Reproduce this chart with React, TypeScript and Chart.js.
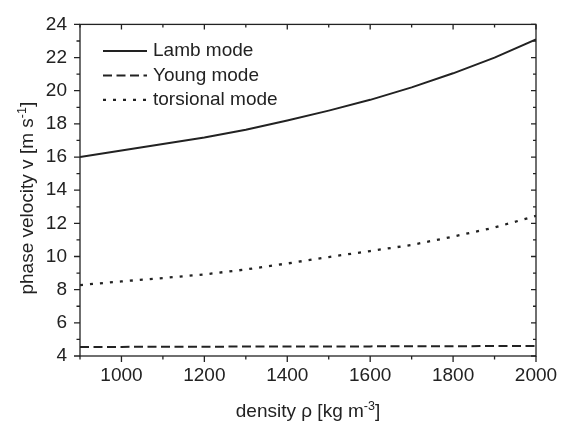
import React, { useEffect, useRef } from "react";
import { Chart, registerables } from "chart.js";

Chart.register(...registerables);

// ---- data ----
const density = [900, 1000, 1100, 1200, 1300, 1400, 1500, 1600, 1700, 1800, 1900, 2000];
const lambMode = [16.0, 16.4, 16.78, 17.18, 17.65, 18.2, 18.8, 19.45, 20.2, 21.05, 22.0, 23.1];
const youngMode = [4.55, 4.55, 4.56, 4.56, 4.57, 4.57, 4.58, 4.58, 4.59, 4.59, 4.6, 4.6];
const torsionalMode = [8.28, 8.5, 8.7, 8.92, 9.22, 9.58, 9.97, 10.33, 10.7, 11.2, 11.75, 12.45];

const seriesLabels = ["Lamb mode", "Young mode", "torsional mode"];
const xTickValues = [1000, 1200, 1400, 1600, 1800, 2000];
const xMinorTickValues = [900, 1100, 1300, 1500, 1700, 1900];
const yTickValues = [4, 6, 8, 10, 12, 14, 16, 18, 20, 22, 24];
const yMinorTickValues = [5, 7, 9, 11, 13, 15, 17, 19, 21, 23];
const xTitleParts = ["density ρ [kg m", "-3", "]"];
const yTitleParts = ["phase velocity v [m s", "-1", "]"];

const FONT = '"Liberation Sans", Arial, Helvetica, sans-serif';
const INK = "#222222";
const FONT_SIZE = 19;

function drawSupText(ctx: CanvasRenderingContext2D, parts: string[], x: number, y: number, center: boolean) {
  const main = `${FONT_SIZE}px ${FONT}`;
  const sup = `12.5px ${FONT}`;
  ctx.font = main;
  const w0 = ctx.measureText(parts[0]).width;
  const w2 = ctx.measureText(parts[2]).width;
  ctx.font = sup;
  const w1 = ctx.measureText(parts[1]).width;
  const total = w0 + w1 + w2;
  let cx = center ? x - total / 2 : x;
  ctx.textAlign = "left";
  ctx.textBaseline = "alphabetic";
  ctx.font = main;
  ctx.fillText(parts[0], cx, y);
  cx += w0;
  ctx.font = sup;
  ctx.fillText(parts[1], cx, y - 7.5);
  cx += w1;
  ctx.font = main;
  ctx.fillText(parts[2], cx, y);
}

const decorPlugin = {
  id: "decor",
  afterDatasetsDraw(chart: any) {
    const { ctx, chartArea: a, scales } = chart;
    const x = scales.x;
    const y = scales.y;
    ctx.save();
    ctx.strokeStyle = INK;
    ctx.lineWidth = 1.3;
    ctx.strokeRect(a.left, a.top, a.right - a.left, a.bottom - a.top);
    ctx.beginPath();
    const tick = (vals: number[], major: boolean) => {
      for (const v of vals) {
        const py = y.getPixelForValue(v);
        const lo = major ? 6 : 3.5;
        const li = major ? 5 : 3;
        ctx.moveTo(a.left - lo, py);
        ctx.lineTo(a.left, py);
        ctx.moveTo(a.right, py);
        ctx.lineTo(a.right - li, py);
      }
    };
    tick(yTickValues, true);
    tick(yMinorTickValues, false);
    const xtick = (vals: number[], major: boolean) => {
      for (const v of vals) {
        const px = x.getPixelForValue(v);
        const lo = major ? 6 : 3.5;
        const li = major ? 5 : 3;
        ctx.moveTo(px, a.bottom);
        ctx.lineTo(px, a.bottom + lo);
        ctx.moveTo(px, a.top);
        ctx.lineTo(px, a.top + li);
      }
    };
    xtick(xTickValues, true);
    xtick(xMinorTickValues, false);
    ctx.stroke();

    // legend
    const ds = chart.data.datasets;
    ds.forEach((d: any, i: number) => {
      const ly = a.top + 26.5 + i * 24.5;
      ctx.save();
      ctx.strokeStyle = d.borderColor;
      ctx.lineWidth = d.borderWidth;
      ctx.setLineDash(d.borderDash || []);
      ctx.beginPath();
      ctx.moveTo(a.left + 23, ly);
      ctx.lineTo(a.left + 67, ly);
      ctx.stroke();
      ctx.restore();
      ctx.fillStyle = INK;
      ctx.font = `${FONT_SIZE}px ${FONT}`;
      ctx.textAlign = "left";
      ctx.textBaseline = "middle";
      ctx.fillText(d.label, a.left + 73, ly);
    });

    // axis titles
    ctx.fillStyle = INK;
    drawSupText(ctx, xTitleParts, (a.left + a.right) / 2, 417, true);
    ctx.save();
    ctx.translate(33, (a.top + a.bottom) / 2 + 8);
    ctx.rotate(-Math.PI / 2);
    drawSupText(ctx, yTitleParts, 0, 0, true);
    ctx.restore();
    ctx.restore();
  },
};

export default function App() {
  const ref = useRef<HTMLCanvasElement | null>(null);
  useEffect(() => {
    if (!ref.current) return;
    const mk = (vals: number[]) => density.map((d, i) => ({ x: d, y: vals[i] }));
    const chart = new Chart(ref.current, {
      type: "line",
      data: {
        datasets: [
          { label: seriesLabels[0], data: mk(lambMode), borderColor: INK, borderWidth: 2, pointRadius: 0, tension: 0, fill: false },
          { label: seriesLabels[1], data: mk(youngMode), borderColor: INK, borderWidth: 2, borderDash: [9, 4.5], pointRadius: 0, tension: 0, fill: false },
          { label: seriesLabels[2], data: mk(torsionalMode), borderColor: INK, borderWidth: 2.3, borderDash: [3, 7], pointRadius: 0, tension: 0, fill: false },
        ],
      },
      options: {
        animation: false,
        responsive: false,
        layout: { padding: { left: 0, top: 20, right: 30, bottom: 0 } },
        plugins: { legend: { display: false }, tooltip: { enabled: false } },
        scales: {
          x: {
            type: "linear",
            min: 900,
            max: 2000,
            grid: { display: false, drawTicks: false },
            border: { display: false },
            afterBuildTicks: (s: any) => { s.ticks = xTickValues.map((v) => ({ value: v })); },
            afterFit: (s: any) => { s.height = 429 - 356; },
            ticks: { color: INK, padding: 8, maxRotation: 0, autoSkip: false, font: { family: FONT, size: FONT_SIZE }, callback: (v: any) => String(v) },
          },
          y: {
            type: "linear",
            min: 4,
            max: 24,
            grid: { display: false, drawTicks: false },
            border: { display: false },
            afterBuildTicks: (s: any) => { s.ticks = yTickValues.map((v) => ({ value: v })); },
            afterFit: (s: any) => { s.width = 80; },
            ticks: { color: INK, padding: 13, autoSkip: false, font: { family: FONT, size: FONT_SIZE }, callback: (v: any) => String(v) },
          },
        },
      },
      plugins: [decorPlugin],
    });
    return () => chart.destroy();
  }, []);
  return (
    <div style={{ position: "absolute", left: 0, top: 0, width: 566, height: 429, background: "#fff" }}>
      <canvas ref={ref} width={566} height={429} style={{ width: 566, height: 429 }} />
    </div>
  );
}
